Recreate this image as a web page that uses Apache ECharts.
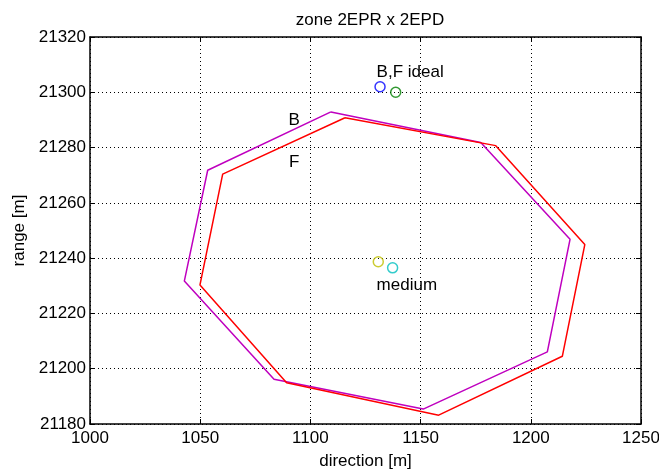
<!DOCTYPE html>
<html><head><meta charset="utf-8">
<script src="https://cdn.jsdelivr.net/npm/echarts@6/dist/echarts.min.js"></script>
<style>html,body{margin:0;padding:0;background:#fff}#c{width:659px;height:470px}</style>
</head><body><div id="c"></div>
<script>
const xTicks = [1000, 1050, 1100, 1150, 1200, 1250];
const yTicks = [21180, 21200, 21220, 21240, 21260, 21280, 21300, 21320];
const polyB = [[1109.3,21292.9],[1177.3,21281.8],[1217.8,21246.8],[1207.5,21206.1],[1151.2,21185.4],[1083.5,21196.2],[1042.8,21231.7],[1053.4,21271.8]];
const polyF = [[1115.7,21290.8],[1184.1,21280.7],[1224.5,21244.9],[1214.3,21204.5],[1158.2,21183.2],[1089.2,21194.9],[1049.9,21230.3],[1060.2,21270.4]];
const idealB = [1131.6, 21302.0];
const idealF = [1138.7, 21300.0];
const mediumB = [1130.8, 21238.7];
const mediumF = [1137.3, 21236.5];
const curveLabels = [[1092.6,21289.7,'B'],[1092.6,21274.5,'F']];
const pointLabels = [[1129.8,21307.4,'B,F ideal'],[1129.8,21230.0,'medium']];

const FONT = 'Liberation Sans';
const FS = 17;
function closed(p){ return p.concat([p[0]]); }

const chart = echarts.init(document.getElementById('c'), null, {renderer:'canvas'});
const axisCommon = {
  axisLine:{show:true,lineStyle:{color:'#000',width:1.5}},
  axisTick:{show:true,inside:true,length:5,lineStyle:{color:'#000'}},
};
const plain = v => String(v);
const labelStyle = {fontFamily:FONT,fontSize:FS,color:'#000',textBorderWidth:0,opacity:1};
chart.setOption({
  animation:false,
  backgroundColor:'#fff',
  title:{text:'zone 2EPR x 2EPD',left:365,textAlign:'center',top:7,
    textStyle:{fontFamily:FONT,fontSize:FS,fontWeight:'normal',color:'#000'}},
  grid:{left:90,right:18,top:37,bottom:46,show:false,containLabel:false,outerBoundsMode:'none'},
  xAxis:[{type:'value',min:xTicks[0],max:xTicks[xTicks.length-1],interval:xTicks[1]-xTicks[0],
    name:'direction [m]',nameLocation:'middle',nameGap:29,
    nameTextStyle:{fontFamily:FONT,fontSize:FS,color:'#000'},
    ...axisCommon,
    axisLabel:{fontFamily:FONT,fontSize:FS,color:'#000',margin:6,formatter:plain},
    splitLine:{show:true,lineStyle:{color:'#000',type:[1,3],width:1}}},
   {type:'value',position:'top',min:xTicks[0],max:xTicks[xTicks.length-1],interval:xTicks[1]-xTicks[0],
    ...axisCommon,axisLabel:{show:false},splitLine:{show:false}}],
  yAxis:[{type:'value',min:yTicks[0],max:yTicks[yTicks.length-1],interval:yTicks[1]-yTicks[0],
    name:'range [m]',nameLocation:'middle',nameGap:62,nameRotate:90,
    nameTextStyle:{fontFamily:FONT,fontSize:FS,color:'#000'},
    ...axisCommon,
    axisLabel:{fontFamily:FONT,fontSize:FS,color:'#000',margin:4,formatter:plain},
    splitLine:{show:true,lineStyle:{color:'#000',type:[1,3],width:1}}},
   {type:'value',position:'right',min:yTicks[0],max:yTicks[yTicks.length-1],interval:yTicks[1]-yTicks[0],
    ...axisCommon,axisLabel:{show:false},splitLine:{show:false}}],
  series:[
    {type:'line',data:closed(polyB),symbol:'none',lineStyle:{color:'#bf00bf',width:1.5}},
    {type:'line',data:closed(polyF),symbol:'none',lineStyle:{color:'#ff0000',width:1.5}},
    {type:'scatter',data:[idealB],symbol:'circle',symbolSize:10,itemStyle:{color:'transparent',borderColor:'#0000ff',borderWidth:1.5}},
    {type:'scatter',data:[idealF],symbol:'circle',symbolSize:10,itemStyle:{color:'transparent',borderColor:'#008000',borderWidth:1.5}},
    {type:'scatter',data:[mediumB],symbol:'circle',symbolSize:10,itemStyle:{color:'transparent',borderColor:'#bfbf00',borderWidth:1.5}},
    {type:'scatter',data:[mediumF],symbol:'circle',symbolSize:10,itemStyle:{color:'transparent',borderColor:'#00bfbf',borderWidth:1.5}},
    {type:'scatter',data:curveLabels,symbolSize:1,itemStyle:{color:'transparent'},
      label:{show:true,position:'inside',formatter:p=>p.data[2],...labelStyle}},
    {type:'scatter',data:pointLabels,symbolSize:1,itemStyle:{color:'transparent'},
      label:{show:true,position:'right',distance:0,formatter:p=>p.data[2],...labelStyle}}
  ]
});
</script></body></html>
